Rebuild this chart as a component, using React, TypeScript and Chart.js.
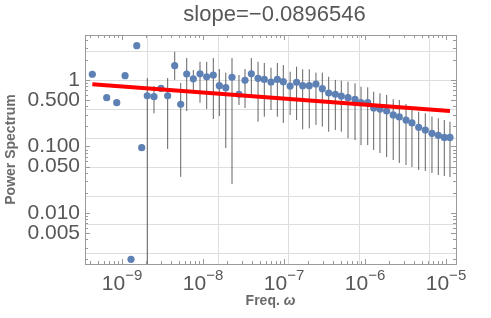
import React, { useEffect, useRef } from "react";
import { Chart, registerables } from "chart.js";

Chart.register(...registerables);

const TITLE = "slope=\u22120.0896546";
const X_TITLE = "Freq. ";
const X_TITLE_SYMBOL = "\u03c9";
const Y_TITLE = "Power Spectrum";

const freq = [
  4.3e-10, 6.47e-10, 8.6e-10, 1.09e-9, 1.29e-9, 1.52e-9, 1.75e-9,
  2.05e-9, 2.48e-9, 3.03e-9, 3.66e-9, 4.47e-9, 5.3e-9, 6.29e-9, 7.59e-9, 9.18e-9,
  1.11e-8, 1.34e-8, 1.59e-8, 1.91e-8, 2.28e-8, 2.78e-8, 3.3e-8, 3.95e-8, 4.78e-8, 5.71e-8, 6.91e-8, 8.27e-8, 9.8e-8,
  1.19e-7, 1.43e-7, 1.7e-7, 2.05e-7, 2.48e-7, 2.97e-7, 3.56e-7, 4.3e-7, 5.1e-7, 6.17e-7, 7.53e-7, 8.93e-7,
  1.08e-6, 1.28e-6, 1.53e-6, 1.85e-6, 2.23e-6, 2.65e-6, 3.21e-6, 3.8e-6, 4.6e-6, 5.55e-6, 6.71e-6, 8.04e-6, 9.53e-6,
  1.12e-5,
];

const power = [
  1.22, 0.542, 0.456, 1.16, 0.00201, 3.28, 0.096,
  0.58, 0.561, 0.75, 0.58, 1.64, 0.431, 1.23, 1.04, 1.24,
  1.12, 1.19, 0.821, 0.766, 1.1, 0.61, 0.99, 1.24, 1.06, 1.02, 0.933, 1.02, 0.943,
  0.812, 0.924, 0.821, 0.821, 0.871, 0.74, 0.638, 0.61, 0.574, 0.542, 0.513, 0.456,
  0.456, 0.379, 0.366, 0.342, 0.298, 0.278, 0.25, 0.226, 0.194, 0.177, 0.158, 0.147, 0.137,
  0.137,
];

const errLow = [
  null, null, null, null, null, null, null,
  0.0015, 0.316, 0.66, 0.0917, 1.0, 0.035, 0.342, 0.638, 0.456,
  0.366, 0.259, 0.288, 0.0949, 0.0273, 0.421, 0.379, 0.561, 0.236, 0.281, 0.354, 0.281, 0.226,
  0.298, 0.25, 0.181, 0.188, 0.211, 0.199, 0.167, 0.177, 0.167, 0.133, 0.125, 0.105,
  0.105, 0.0886, 0.0798, 0.0695, 0.0627, 0.0565, 0.0527, 0.0492, 0.0443, 0.0428, 0.04, 0.0373, 0.036,
  0.0348,
];

const errHigh = [
  null, null, null, null, null, null, null,
  1.07, 0.812, 0.841, 1.07, 2.66, 0.901, 2.14, 1.41, 1.88,
  1.88, 2.14, 1.46, 1.29, 2.14, 1.19, 1.46, 2.14, 1.88, 1.8, 1.53, 1.8, 1.68,
  1.33, 1.585, 1.45, 1.45, 1.29, 1.29, 1.12, 1.0, 0.976, 0.943, 0.892, 0.793,
  0.777, 0.667, 0.631, 0.595, 0.513, 0.5, 0.436, 0.375, 0.334, 0.316, 0.281, 0.266, 0.25,
  0.236,
];

const fitFreq = [4.3e-10, 1.12e-5];
const fitPower = [0.862, 0.342];

const xTickExponents = [-9, -8, -7, -6, -5];
const yTickValues = [1, 0.5, 0.1, 0.05, 0.01, 0.005];
const yTickLabels = ["1", "0.500", "0.100", "0.050", "0.010", "0.005"];
const xGridLnValues = [-20, -18, -16, -14, -12];
const yGridLnValues = [1, 0, -1, -2, -3, -4, -5, -6];

const X_MIN = 3.49e-10;
const X_MAX = 1.329e-5;
const Y_MIN = 0.00171;
const Y_MAX = 4.75;

const TEXT_COLOR = "#575757";
const FRAME_COLOR = "#9a9a9a";
const FONT = "'Liberation Sans', Arial, sans-serif";

const decorPlugin = {
  id: "decor",
  beforeDatasetsDraw(chart: any) {
    const { ctx, chartArea: a, scales } = chart;
    const x = scales.x;
    const y = scales.y;
    ctx.save();
    ctx.strokeStyle = "#dedede";
    ctx.lineWidth = 1;
    xGridLnValues.forEach((k) => {
      const px = Math.round(x.getPixelForValue(Math.exp(k))) + 0.5;
      ctx.beginPath();
      ctx.moveTo(px, a.top);
      ctx.lineTo(px, a.bottom);
      ctx.stroke();
    });
    yGridLnValues.forEach((k) => {
      const py = Math.round(y.getPixelForValue(Math.exp(k))) + 0.5;
      ctx.beginPath();
      ctx.moveTo(a.left, py);
      ctx.lineTo(a.right, py);
      ctx.stroke();
    });
    ctx.restore();
  },
  afterDatasetsDraw(chart: any) {
    const { ctx, chartArea: a, scales } = chart;
    const x = scales.x;
    const y = scales.y;
    ctx.save();
    ctx.strokeStyle = FRAME_COLOR;
    ctx.lineWidth = 1;
    ctx.strokeRect(Math.round(a.left) + 0.5, Math.round(a.top) + 0.5, Math.round(a.right - a.left), Math.round(a.bottom - a.top));
    for (let d = -10; d <= -5; d++) {
      for (let k = 1; k <= 9; k++) {
        const v = k * Math.pow(10, d);
        if (v < X_MIN || v > X_MAX) continue;
        const len = k === 1 ? 5 : 3;
        const px = Math.round(x.getPixelForValue(v)) + 0.5;
        ctx.beginPath();
        ctx.moveTo(px, a.bottom);
        ctx.lineTo(px, a.bottom - len);
        ctx.moveTo(px, a.top);
        ctx.lineTo(px, a.top + len);
        ctx.stroke();
      }
    }
    for (let d = -3; d <= 0; d++) {
      for (let k = 1; k <= 9; k++) {
        const v = k * Math.pow(10, d);
        if (v < Y_MIN || v > Y_MAX) continue;
        const major = yTickValues.some((t) => Math.abs(t - v) / t < 1e-6);
        const len = major ? 5 : 3;
        const py = Math.round(y.getPixelForValue(v)) + 0.5;
        ctx.beginPath();
        ctx.moveTo(a.left, py);
        ctx.lineTo(a.left + len, py);
        ctx.moveTo(a.right, py);
        ctx.lineTo(a.right - len, py);
        ctx.stroke();
      }
    }
    ctx.restore();
  },
  afterDraw(chart: any) {
    const { ctx, chartArea: a, scales } = chart;
    const x = scales.x;
    const cx = (a.left + a.right) / 2;
    ctx.save();
    ctx.fillStyle = TEXT_COLOR;
    ctx.font = `22px ${FONT}`;
    ctx.textAlign = "center";
    ctx.textBaseline = "alphabetic";
    ctx.fillText(TITLE, cx + 4, 21);
    xTickExponents.forEach((e) => {
      const px = x.getPixelForValue(Math.pow(10, e));
      const base = "10";
      const exp = "\u2212" + String(Math.abs(e));
      ctx.font = `21px ${FONT}`;
      const wb = ctx.measureText(base).width;
      ctx.font = `15px ${FONT}`;
      const we = ctx.measureText(exp).width;
      const left = px - (wb + we) / 2;
      ctx.textAlign = "left";
      ctx.font = `21px ${FONT}`;
      ctx.fillText(base, left, 290);
      ctx.font = `15px ${FONT}`;
      ctx.fillText(exp, left + wb, 280);
    });
    ctx.fillStyle = "#6a6a6a";
    ctx.font = `bold 14px ${FONT}`;
    const w1 = ctx.measureText(X_TITLE).width;
    ctx.font = `italic bold 14px ${FONT}`;
    const w2 = ctx.measureText(X_TITLE_SYMBOL).width;
    const xl = cx - (w1 + w2) / 2;
    ctx.textAlign = "left";
    ctx.font = `bold 14px ${FONT}`;
    ctx.fillText(X_TITLE, xl, 305);
    ctx.font = `italic bold 14px ${FONT}`;
    ctx.fillText(X_TITLE_SYMBOL, xl + w1, 305);
    ctx.translate(15, (a.top + a.bottom) / 2);
    ctx.rotate(-Math.PI / 2);
    ctx.textAlign = "center";
    ctx.font = `bold 14px ${FONT}`;
    ctx.fillText(Y_TITLE, 0, 0);
    ctx.restore();
  },
};

export default function App() {
  const canvasRef = useRef<HTMLCanvasElement | null>(null);

  useEffect(() => {
    document.body.style.margin = "0";
    const canvas = canvasRef.current;
    if (!canvas) return;

    const points = freq.map((f, i) => ({ x: f, y: power[i] }));
    const errSegments: any[] = [];
    freq.forEach((f, i) => {
      if (errLow[i] == null || errHigh[i] == null) return;
      errSegments.push({ x: f, y: errLow[i] }, { x: f, y: errHigh[i] }, { x: f, y: null });
    });
    const fitPoints = fitFreq.map((f, i) => ({ x: f, y: fitPower[i] }));

    const chart = new Chart(canvas, {
      type: "scatter",
      data: {
        datasets: [
          {
            type: "line",
            data: errSegments,
            borderColor: "rgba(60,60,60,0.8)",
            borderWidth: 1,
            pointRadius: 0,
            spanGaps: false,
            showLine: true,
            order: 3,
          } as any,
          {
            type: "scatter",
            data: points,
            backgroundColor: "#5E81B5",
            borderColor: "#5E81B5",
            pointRadius: 3.6,
            borderWidth: 0,
            order: 2,
          } as any,
          {
            type: "line",
            data: fitPoints,
            borderColor: "#ff0000",
            borderWidth: 4,
            pointRadius: 0,
            showLine: true,
            order: 1,
          } as any,
        ],
      },
      options: {
        animation: false,
        responsive: true,
        maintainAspectRatio: false,
        layout: { padding: { top: 35, right: 35, left: 0, bottom: 0 } },
        plugins: {
          legend: { display: false },
          tooltip: { enabled: false },
          title: { display: false },
        },
        scales: {
          x: {
            type: "logarithmic",
            min: X_MIN,
            max: X_MAX,
            grid: { display: false, drawTicks: false },
            border: { display: false },
            ticks: { display: false },
            afterBuildTicks: (s: any) => {
              s.ticks = xTickExponents.map((e) => ({ value: Math.pow(10, e) }));
            },
            afterFit: (s: any) => {
              s.height = 54;
            },
          },
          y: {
            type: "logarithmic",
            min: Y_MIN,
            max: Y_MAX,
            grid: { display: false, drawTicks: false },
            border: { display: false },
            afterBuildTicks: (s: any) => {
              s.ticks = yTickValues.map((v) => ({ value: v }));
            },
            ticks: {
              padding: 5,
              color: TEXT_COLOR,
              font: { family: FONT, size: 21 },
              autoSkip: false,
              callback: (v: any) => {
                const i = yTickValues.findIndex((t) => Math.abs(t - Number(v)) / t < 1e-6);
                return i >= 0 ? yTickLabels[i] : "";
              },
            },
            afterFit: (s: any) => {
              s.width = 85;
            },
          },
        },
      },
      plugins: [decorPlugin],
    });

    return () => chart.destroy();
  }, []);

  return (
    <div style={{ width: 491, height: 318, position: "relative" }}>
      <canvas ref={canvasRef} />
    </div>
  );
}
